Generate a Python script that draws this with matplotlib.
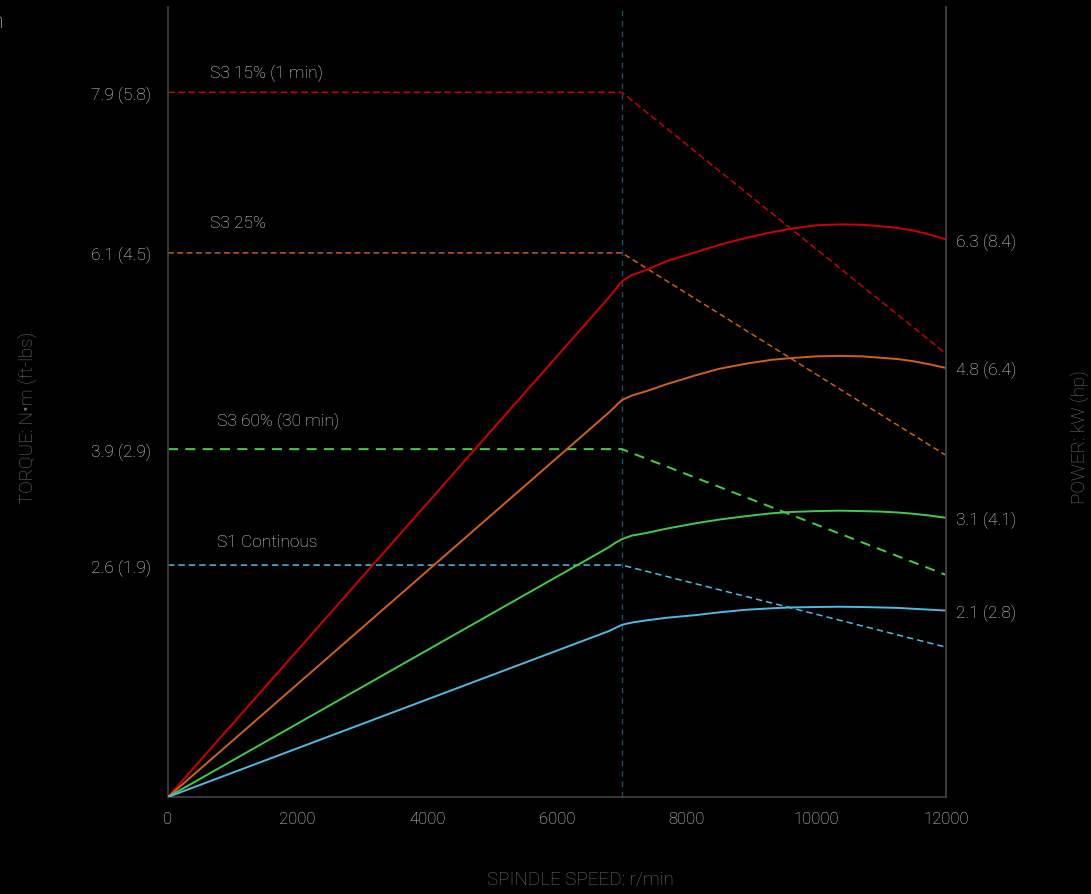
import matplotlib
matplotlib.use("Agg")
import matplotlib.pyplot as plt
from matplotlib import font_manager

# ---------------- data ----------------
speed_knee = 7000
speed_max = 12000

torque_labels = ["S3 15% (1 min)", "S3 25%", "S3 60% (30 min)", "S1 Continous"]
torque_start = [7.9, 6.1, 3.9, 2.6]          # N·m, constant up to 7000 r/min
torque_end = [4.97, 3.83, 2.49, 1.68]        # N·m at 12000 r/min
torque_ticklabels = ["7.9 (5.8)", "6.1 (4.5)", "3.9 (2.9)", "2.6 (1.9)"]

power_speed = [0, 6800, 6900, 7000, 7150, 7380, 7700, 8150, 8500, 8930, 9300,
               9600, 10000, 10360, 10700, 10980, 11250, 11500, 11750, 12000]
power_s3_15 = [0, 5.60, 5.69, 5.78, 5.85, 5.91, 6.01, 6.11, 6.19, 6.27, 6.33,
               6.37, 6.41, 6.42, 6.415, 6.40, 6.38, 6.35, 6.305, 6.25]
power_s3_25 = [0, 4.31, 4.38, 4.45, 4.50, 4.55, 4.63, 4.73, 4.80, 4.86, 4.90,
               4.92, 4.94, 4.945, 4.94, 4.925, 4.91, 4.885, 4.85, 4.81]
power_s3_60 = [0, 2.80, 2.85, 2.89, 2.93, 2.96, 3.01, 3.07, 3.11, 3.15, 3.18,
               3.195, 3.205, 3.21, 3.205, 3.20, 3.19, 3.175, 3.155, 3.13]
power_s1 = [0, 1.86, 1.895, 1.93, 1.955, 1.98, 2.01, 2.04, 2.07, 2.10, 2.115,
            2.125, 2.13, 2.133, 2.13, 2.125, 2.12, 2.11, 2.10, 2.09]
power_ticklabels = ["6.3 (8.4)", "4.8 (6.4)", "3.1 (4.1)", "2.1 (2.8)"]

x_ticks = [0, 2000, 4000, 6000, 8000, 10000, 12000]

# ---------------- style ----------------
avail = {f.name for f in font_manager.fontManager.ttflist}
fam = [f for f in ["Roboto", "DejaVu Sans"] if f in avail]
plt.rcParams['font.family'] = fam + ["DejaVu Sans"]
plt.rcParams['font.weight'] = 'light'

bg = "#000000"
txt = "#dedede"
axis_lbl = "#707070"
spine_c = "#3d3d3d"

colors_solid = ["#d10000", "#d2601a", "#44c94a", "#4fb9e6"]
colors_dash = ["#c40000", "#d2601a", "#44c94a", "#4fb9e6"]
dash_styles = [(0, (4.5, 2.2)), (0, (4.0, 2.4)), (0, (5.0, 3.6)), (0, (4.2, 2.6))]
dash_lw = [1.1, 1.05, 1.45, 1.1]

fig = plt.figure(figsize=(10.91, 8.95), dpi=100, facecolor=bg)
ax = fig.add_axes([168/1091, 1-798/895, (946-168)/1091, (798-8)/895])
ax.set_facecolor(bg)
ymax = (798-8)/89.2
ax.set_xlim(0, speed_max)
ax.set_ylim(0, ymax)

# knee line
ax.axvline(speed_knee, color="#1e4d63", lw=1.0, linestyle=(0, (4, 3.5)), zorder=1)

# torque (dashed)
for i in range(4):
    ax.plot([0, speed_knee, speed_max], [torque_start[i], torque_start[i], torque_end[i]],
            color=colors_dash[i], lw=dash_lw[i], linestyle=dash_styles[i], zorder=2)

# power (solid)
for i, p in enumerate([power_s3_15, power_s3_25, power_s3_60, power_s1]):
    ax.plot(power_speed, p, color=colors_solid[i], lw=1.4, zorder=3,
            solid_joinstyle='round')

# curve labels
label_x = [650, 650, 760, 760]
label_dy_px = [20, 30, 29, 24]
for xs, yv, dy, lab in zip(label_x, torque_start, label_dy_px, torque_labels):
    ax.annotate(lab, xy=(xs, yv), xytext=(0, dy*0.72), textcoords='offset points',
                color=txt, fontsize=12.5, ha='left', va='center')

ax.spines['top'].set_visible(False)
for s in ['left', 'right', 'bottom']:
    ax.spines[s].set_color(spine_c)
    ax.spines[s].set_linewidth(1.3)

ax.set_xticks(x_ticks)
ax.set_xticklabels([str(v) for v in x_ticks])
ax.set_yticks(torque_start)
ax.set_yticklabels(torque_ticklabels)
ax.tick_params(axis='x', length=0, pad=10, colors=txt, labelsize=12)
ax.tick_params(axis='y', length=0, pad=12, colors=txt, labelsize=12.5)

ax2 = ax.twinx()
ax2.set_ylim(0, ymax)
ax2.set_yticks([power_s3_15[-1], power_s3_25[-1], power_s3_60[-1], power_s1[-1]])
ax2.set_yticklabels(power_ticklabels)
ax2.tick_params(axis='y', length=0, pad=7, colors=txt, labelsize=12.5)
for s in ['top', 'left', 'bottom']:
    ax2.spines[s].set_visible(False)
ax2.spines['right'].set_color(spine_c)
ax2.spines['right'].set_linewidth(1.3)

fig.text(28/1091, 1-418/895, "TORQUE: N•m (ft-lbs)", rotation=90, ha='center', va='center',
         color=axis_lbl, fontsize=13.5)
fig.text(1080/1091, 1-437/895, "POWER: kW (hp)", rotation=90, ha='center', va='center',
         color=axis_lbl, fontsize=13.5)
fig.text(580/1091, 1-880/895, "SPINDLE SPEED: r/min", ha='center', va='center',
         color=axis_lbl, fontsize=13.5)
fig.text(4/1091, 1-22/895, "Spindle Power and Torque Specification", ha='right', va='center',
         color=txt, fontsize=16)

fig.savefig("out.png", dpi=100, facecolor=bg)
